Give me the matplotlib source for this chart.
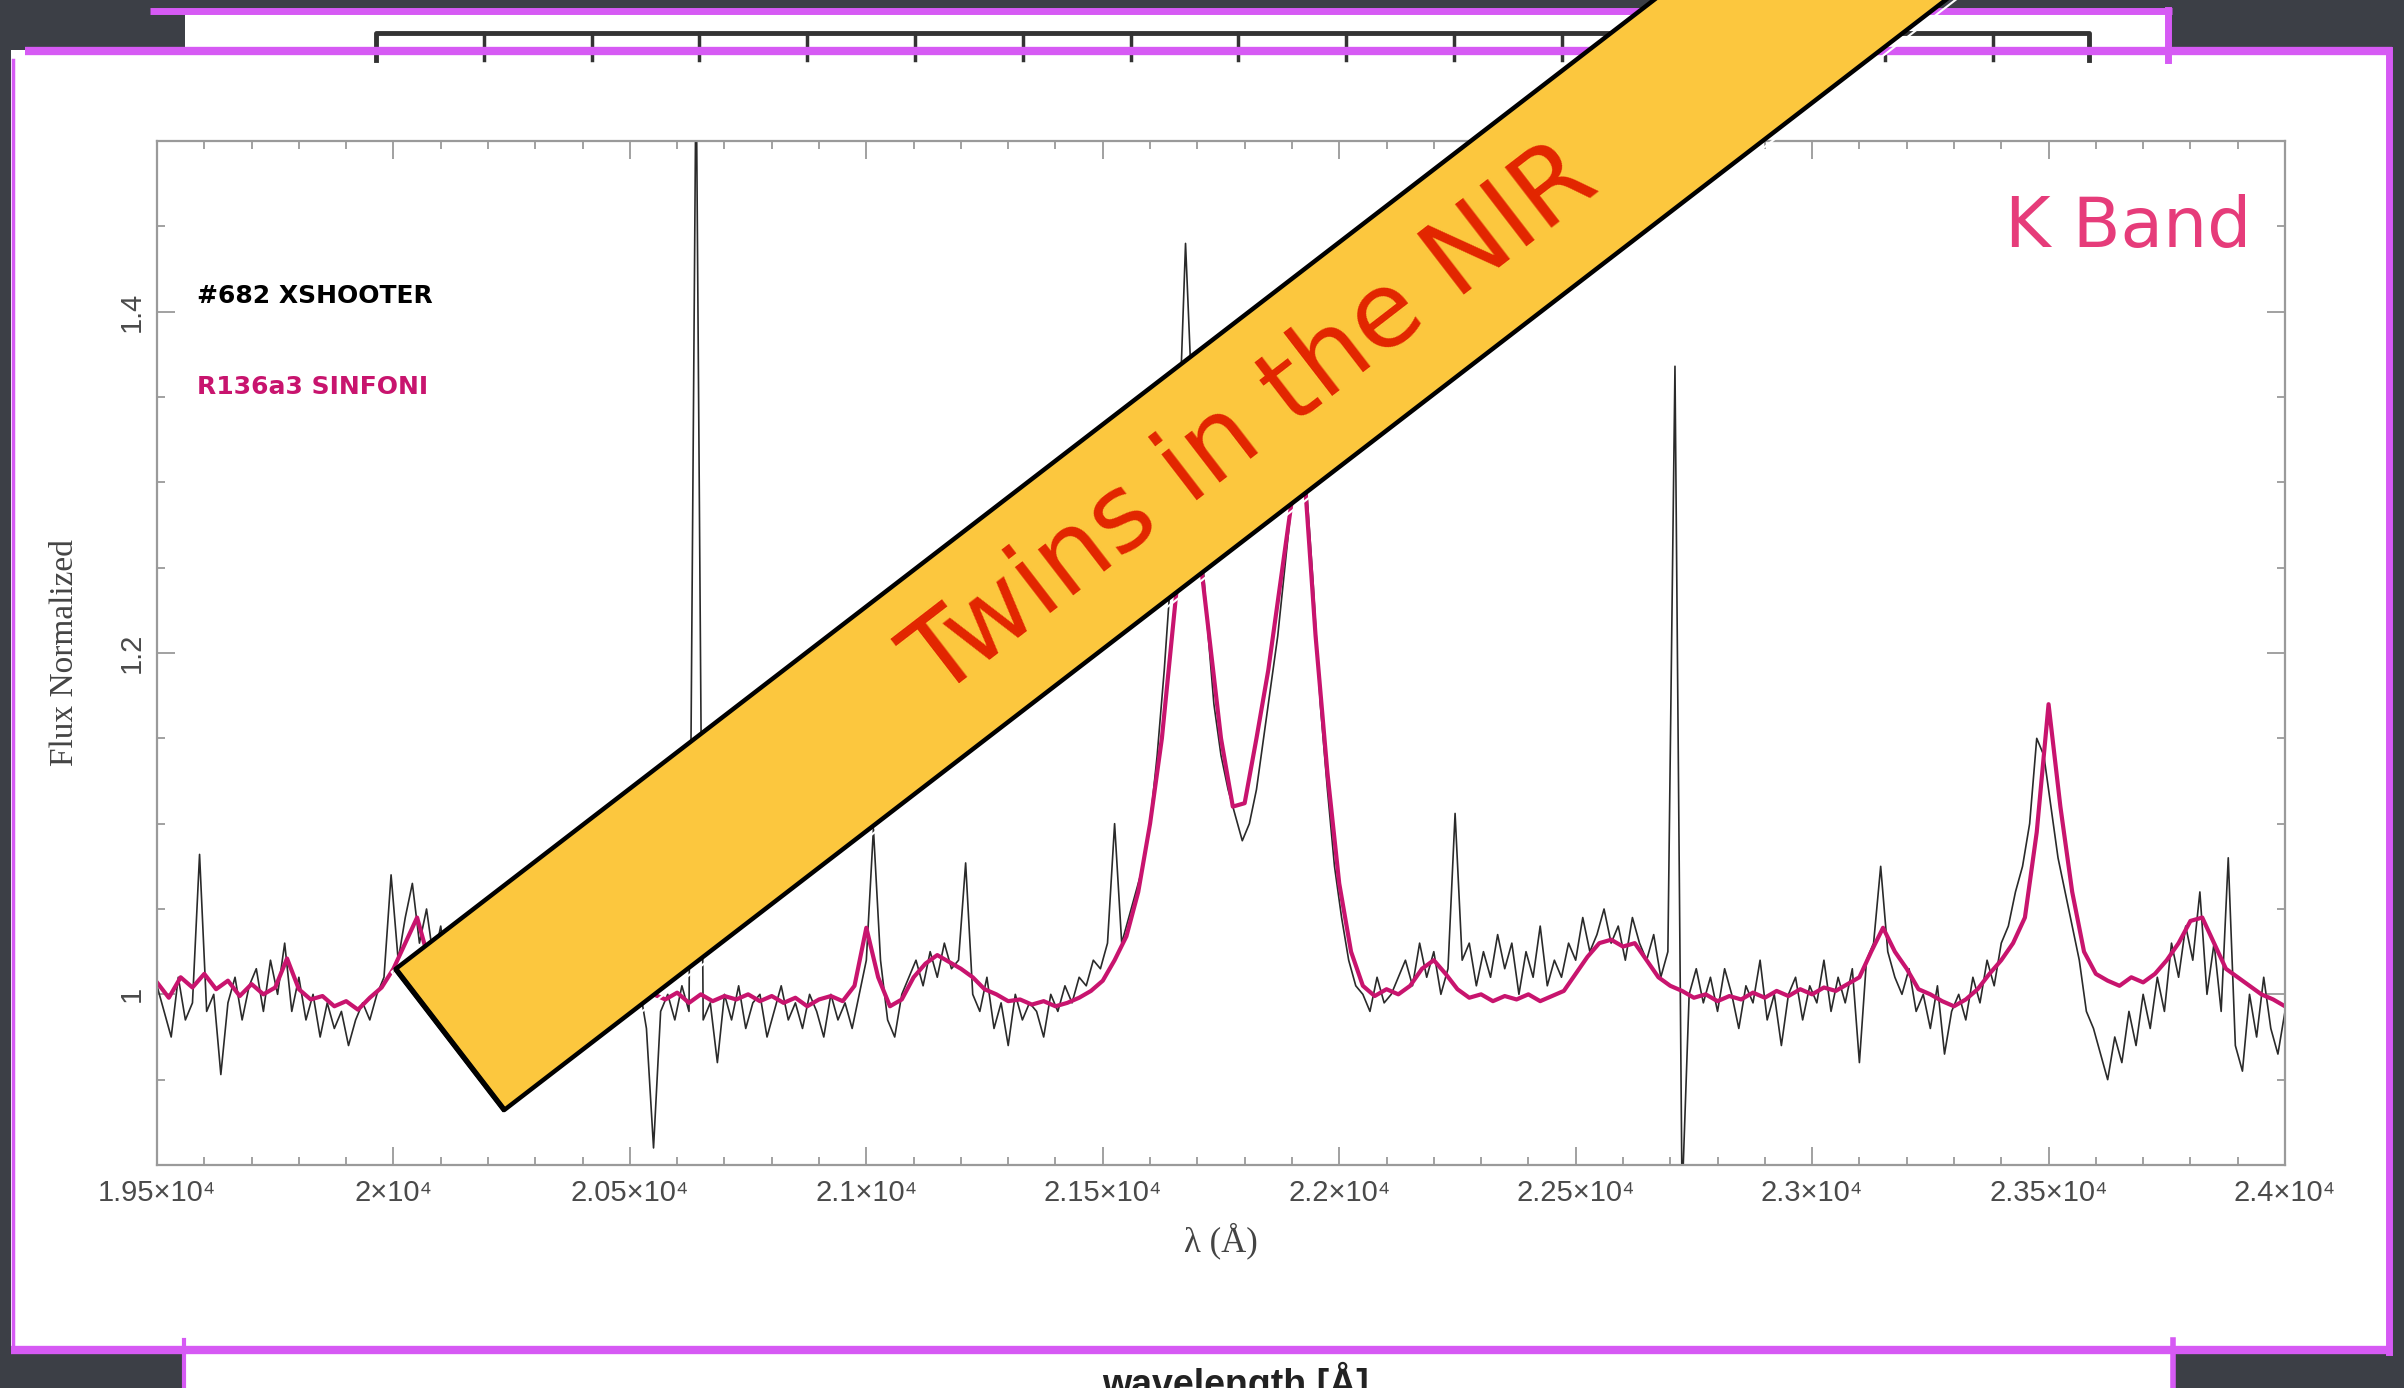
import numpy as np
import matplotlib.pyplot as plt
from matplotlib.patches import Polygon, Rectangle
from matplotlib.ticker import FixedLocator, FixedFormatter, MultipleLocator

# #682 XSHOOTER, normalised flux sampled every 15 A from 19500 to 24000 A
xsh_flux = [
    1.005, 0.99, 0.975, 1.01, 0.985, 0.995, 1.082, 0.99, 1.0, 0.953,
    0.995, 1.01, 0.985, 1.005, 1.015, 0.99, 1.02, 1.0, 1.03, 0.99,
    1.01, 0.985, 1.0, 0.975, 0.995, 0.98, 0.99, 0.97, 0.985, 0.995,
    0.985, 1.0, 1.01, 1.07, 1.02, 1.045, 1.065, 1.03, 1.05, 1.02,
    1.04, 1.01, 1.03, 1.0, 1.02, 0.99, 1.01, 1.0, 0.985, 1.005,
    0.99, 1.01, 1.0, 0.98, 1.0, 0.99, 1.01, 0.995, 1.0, 0.985,
    1.0, 0.99, 1.01, 0.995, 0.985, 1.0, 1.01, 0.99, 1.005, 0.98,
    0.91, 0.99, 1.0, 0.985, 1.005, 0.99, 1.55, 0.985, 0.995, 0.96,
    1.0, 0.985, 1.005, 0.98, 0.995, 1.0, 0.975, 0.99, 1.005, 0.985,
    0.995, 0.98, 1.0, 0.99, 0.975, 1.0, 0.985, 0.995, 0.98, 1.0,
    1.02, 1.097, 1.02, 0.985, 0.975, 1.0, 1.01, 1.02, 1.005, 1.025,
    1.01, 1.03, 1.015, 1.02, 1.077, 1.0, 0.99, 1.01, 0.98, 0.995,
    0.97, 1.0, 0.985, 0.995, 0.99, 0.975, 1.0, 0.99, 1.005, 0.995,
    1.01, 1.005, 1.02, 1.015, 1.03, 1.1, 1.03, 1.045, 1.06, 1.075,
    1.1, 1.14, 1.19, 1.25, 1.32, 1.44, 1.34, 1.28, 1.22, 1.17,
    1.14, 1.12, 1.105, 1.09, 1.1, 1.12, 1.15, 1.18, 1.21, 1.25,
    1.29, 1.32, 1.3, 1.24, 1.17, 1.12, 1.075, 1.045, 1.02, 1.005,
    1.0, 0.99, 1.01, 0.995, 1.0, 1.01, 1.02, 1.005, 1.03, 1.01,
    1.025, 1.0, 1.015, 1.106, 1.02, 1.03, 1.005, 1.025, 1.01, 1.035,
    1.015, 1.03, 1.0, 1.025, 1.01, 1.04, 1.005, 1.02, 1.01, 1.03,
    1.02, 1.045, 1.025, 1.035, 1.05, 1.03, 1.04, 1.02, 1.045, 1.03,
    1.02, 1.035, 1.01, 1.025, 1.368, 0.88, 1.0, 1.015, 0.995, 1.01,
    0.99, 1.015, 1.0, 0.98, 1.005, 0.995, 1.02, 0.985, 1.0, 0.97,
    1.0, 1.01, 0.985, 1.005, 0.995, 1.02, 0.99, 1.01, 0.995, 1.015,
    0.96, 1.02, 1.03, 1.075, 1.025, 1.01, 1.0, 1.015, 0.99, 1.0,
    0.98, 1.005, 0.965, 0.99, 1.0, 0.985, 1.01, 0.995, 1.02, 1.005,
    1.03, 1.04, 1.06, 1.075, 1.1, 1.15, 1.14, 1.11, 1.08, 1.06,
    1.04, 1.02, 0.99, 0.98, 0.965, 0.95, 0.975, 0.96, 0.99, 0.97,
    1.0, 0.98, 1.01, 0.99, 1.03, 1.01, 1.04, 1.02, 1.06, 1.0,
    1.03, 0.99, 1.08, 0.97, 0.955, 1.0, 0.975, 1.01, 0.98, 0.965,
    0.99,
]

# R136a3 SINFONI, normalised flux sampled every 25 A from 19500 to 24000 A
sin_flux = [
    1.007, 0.998, 1.01, 1.004, 1.012, 1.003, 1.008, 0.999, 1.006, 1.0,
    1.004, 1.021, 1.003, 0.997, 0.999, 0.993, 0.996, 0.991, 0.998, 1.004,
    1.015, 1.03, 1.045, 1.02, 1.005, 1.0, 0.998, 1.0, 0.997, 1.0,
    0.998, 1.0, 0.996, 0.999, 0.997, 1.0, 0.998, 0.997, 0.999, 0.996,
    0.999, 0.996, 1.0, 0.997, 1.001, 0.995, 1.0, 0.996, 0.999, 0.997,
    1.0, 0.996, 0.999, 0.995, 0.998, 0.993, 0.997, 0.999, 0.996, 1.005,
    1.039, 1.01, 0.993, 0.997, 1.01, 1.018, 1.023, 1.019, 1.015, 1.01,
    1.003, 1.0, 0.996, 0.997, 0.994, 0.996, 0.993, 0.995, 0.998, 1.002,
    1.008, 1.02, 1.034, 1.06, 1.1, 1.15, 1.22, 1.29, 1.27, 1.21,
    1.15, 1.11, 1.112, 1.15, 1.19, 1.24, 1.29, 1.31, 1.21, 1.13,
    1.065, 1.025, 1.005, 0.999, 1.003, 1.0, 1.005, 1.015, 1.02, 1.012,
    1.003, 0.998, 1.0, 0.996, 0.999, 0.997, 1.0, 0.996, 0.999, 1.002,
    1.012, 1.022, 1.03, 1.032, 1.028, 1.03, 1.02, 1.01, 1.005, 1.002,
    0.998, 1.0, 0.996, 0.999, 0.997, 1.001, 0.998, 1.002, 0.999, 1.003,
    1.0, 1.004, 1.002, 1.006, 1.01, 1.025, 1.039, 1.025, 1.015, 1.003,
    1.0, 0.996, 0.993, 0.997, 1.003, 1.012, 1.02, 1.03, 1.045, 1.095,
    1.17, 1.11, 1.06, 1.025, 1.012, 1.008, 1.005, 1.01, 1.007, 1.012,
    1.02, 1.03, 1.043, 1.045, 1.03, 1.015, 1.01, 1.005, 1.0, 0.997,
    0.993,
]

xsh_wave = np.linspace(19500, 24000, len(xsh_flux))
sin_wave = np.linspace(19500, 24000, len(sin_flux))

xtick_pos = [19500, 20000, 20500, 21000, 21500, 22000, 22500, 23000, 23500, 24000]
xtick_lab = ['1.95×10⁴', '2×10⁴', '2.05×10⁴', '2.1×10⁴', '2.15×10⁴',
             '2.2×10⁴', '2.25×10⁴', '2.3×10⁴', '2.35×10⁴', '2.4×10⁴']
ytick_pos = [1.0, 1.2, 1.4]
ytick_lab = ['1', '1.2', '1.4']

W, H = 2404, 1388
purple = '#d65af4'
sans = ['Liberation Sans', 'DejaVu Sans']
serif = ['Liberation Serif', 'DejaVu Serif']

fig = plt.figure(figsize=(W / 100, H / 100), dpi=100)
fig.patch.set_facecolor('#3c3f46')

# slide background: stacked paper sheets in pixel coordinates
bg = fig.add_axes([0, 0, 1, 1], zorder=0)
bg.set_xlim(0, W)
bg.set_ylim(H, 0)
bg.axis('off')

# sheet peeking out at the top
bg.add_patch(Rectangle((185, 10), 1985, 60, facecolor='white', edgecolor='none'))
bg.plot([150, 2172], [11, 11], color=purple, lw=5, solid_capstyle='butt')
bg.plot([2168, 2168], [10, 60], color=purple, lw=5)
bg.plot([376, 376, 2089, 2089], [60, 33, 33, 60], color='#333', lw=3.5)
for xv in np.arange(376 + 107.8, 2089, 107.8):
    bg.plot([xv, xv], [33, 60], color='#333', lw=2.5)

# sheet peeking out at the bottom
bg.add_patch(Rectangle((184, 1340), 1990, 60, facecolor='white', edgecolor='none'))
bg.plot([184, 184], [1340, H], color=purple, lw=3)
bg.plot([2173, 2173], [1340, H], color=purple, lw=4)
bg.text(1235, 1362, 'wavelength [Å]', ha='center', va='top', fontsize=27,
        fontweight='bold', color='#222', family=sans)

# front sheet carrying the spectrum
bg.add_patch(Rectangle((11, 50), 2381, 1301, facecolor='white', edgecolor='none'))
bg.plot([25, 2392], [51, 51], color=purple, lw=6, solid_capstyle='butt')
bg.plot([11, 2392], [1350, 1350], color=purple, lw=6, solid_capstyle='butt')
bg.plot([2389, 2389], [50, 1352], color=purple, lw=5)
bg.plot([13, 13], [60, 1350], color=purple, lw=2.5)

# spectrum panel
ax = fig.add_axes([157 / W, 1 - 1165 / H, 2128 / W, 1024 / H], zorder=1)
ax.set_facecolor('none')
ax.plot(xsh_wave, xsh_flux, color='#2a2a2a', lw=1.2)
ax.plot(sin_wave, sin_flux, color='#c8146e', lw=3.0)
ax.set_xlim(19500, 24000)
ax.set_ylim(0.9, 1.5)

ax.xaxis.set_major_locator(FixedLocator(xtick_pos))
ax.xaxis.set_major_formatter(FixedFormatter(xtick_lab))
ax.xaxis.set_minor_locator(MultipleLocator(100))
ax.yaxis.set_major_locator(FixedLocator(ytick_pos))
ax.yaxis.set_major_formatter(FixedFormatter(ytick_lab))
ax.yaxis.set_minor_locator(MultipleLocator(0.05))

for sp in ax.spines.values():
    sp.set_color('#9a9a9a')
    sp.set_linewidth(1.6)
ax.tick_params(which='both', direction='in', top=True, right=True, color='#9a9a9a', width=1.3)
ax.tick_params(which='major', length=13)
ax.tick_params(which='minor', length=6)
ax.tick_params(axis='x', pad=10, labelsize=21, labelcolor='#4a4a4a')
ax.tick_params(axis='y', pad=8, labelsize=21, labelcolor='#4a4a4a')
for lab in ax.get_xticklabels() + ax.get_yticklabels():
    lab.set_family(sans)
for lab in ax.get_yticklabels():
    lab.set_rotation(90)
    lab.set_va('center')

ax.set_xlabel('λ (Å)', fontsize=25, color='#444', family=serif)
ax.xaxis.set_label_coords(0.5, -0.056)
ax.set_ylabel('Flux Normalized', fontsize=24, color='#444', family=serif)
ax.yaxis.set_label_coords(-0.036, 0.5)

ax.text(0.0187, 0.849, '#682 XSHOOTER', transform=ax.transAxes, fontsize=18,
        fontweight='bold', color='black', va='center', family=['DejaVu Sans'])
ax.text(0.0187, 0.760, 'R136a3 SINFONI', transform=ax.transAxes, fontsize=18,
        fontweight='bold', color='#c8146e', va='center', family=['DejaVu Sans'])
ax.text(0.984, 0.916, 'K Band', transform=ax.transAxes, fontsize=50,
        color='#e63c7a', ha='right', va='center', family=['DejaVu Sans'])

# diagonal banner on top of everything
top = fig.add_axes([0, 0, 1, 1], zorder=2)
top.set_xlim(0, W)
top.set_ylim(H, 0)
top.axis('off')

theta = np.deg2rad(37.6)
u = np.array([np.cos(theta), -np.sin(theta)])
n = np.array([np.sin(theta), np.cos(theta)])
a = np.array([395.6, 969.0])
b = a + 178 * n
corners = np.array([a, b, b + 1900 * u, a + 1900 * u])
top.add_patch(Polygon(corners, closed=True, facecolor='#fcc73e', edgecolor='none'))
# hand-drawn looking outline: a white halo plus a few offset strokes
halo = corners + np.array([[-4, 3], [2, 6], [2, 6], [-4, 3]])
top.plot(halo[[3, 0, 1, 2], 0], halo[[3, 0, 1, 2], 1], color='white', lw=1.5)
for dx, dy, lw in [(0, 0, 3.2), (1.5, -1.0, 1.4), (-1.2, 1.4, 1.2)]:
    pts = corners + np.array([dx, dy])
    top.plot(pts[[3, 0, 1, 2], 0], pts[[3, 0, 1, 2], 1], color='black', lw=lw)

mid = (a + b) / 2 + 1013 * u
top.text(mid[0], mid[1], 'Twins in the NIR', rotation=37.6, rotation_mode='anchor',
         ha='center', va='center', fontsize=76, color='#e22500', family=['DejaVu Sans'])

fig.savefig('out.png', dpi=100, facecolor=fig.get_facecolor())
